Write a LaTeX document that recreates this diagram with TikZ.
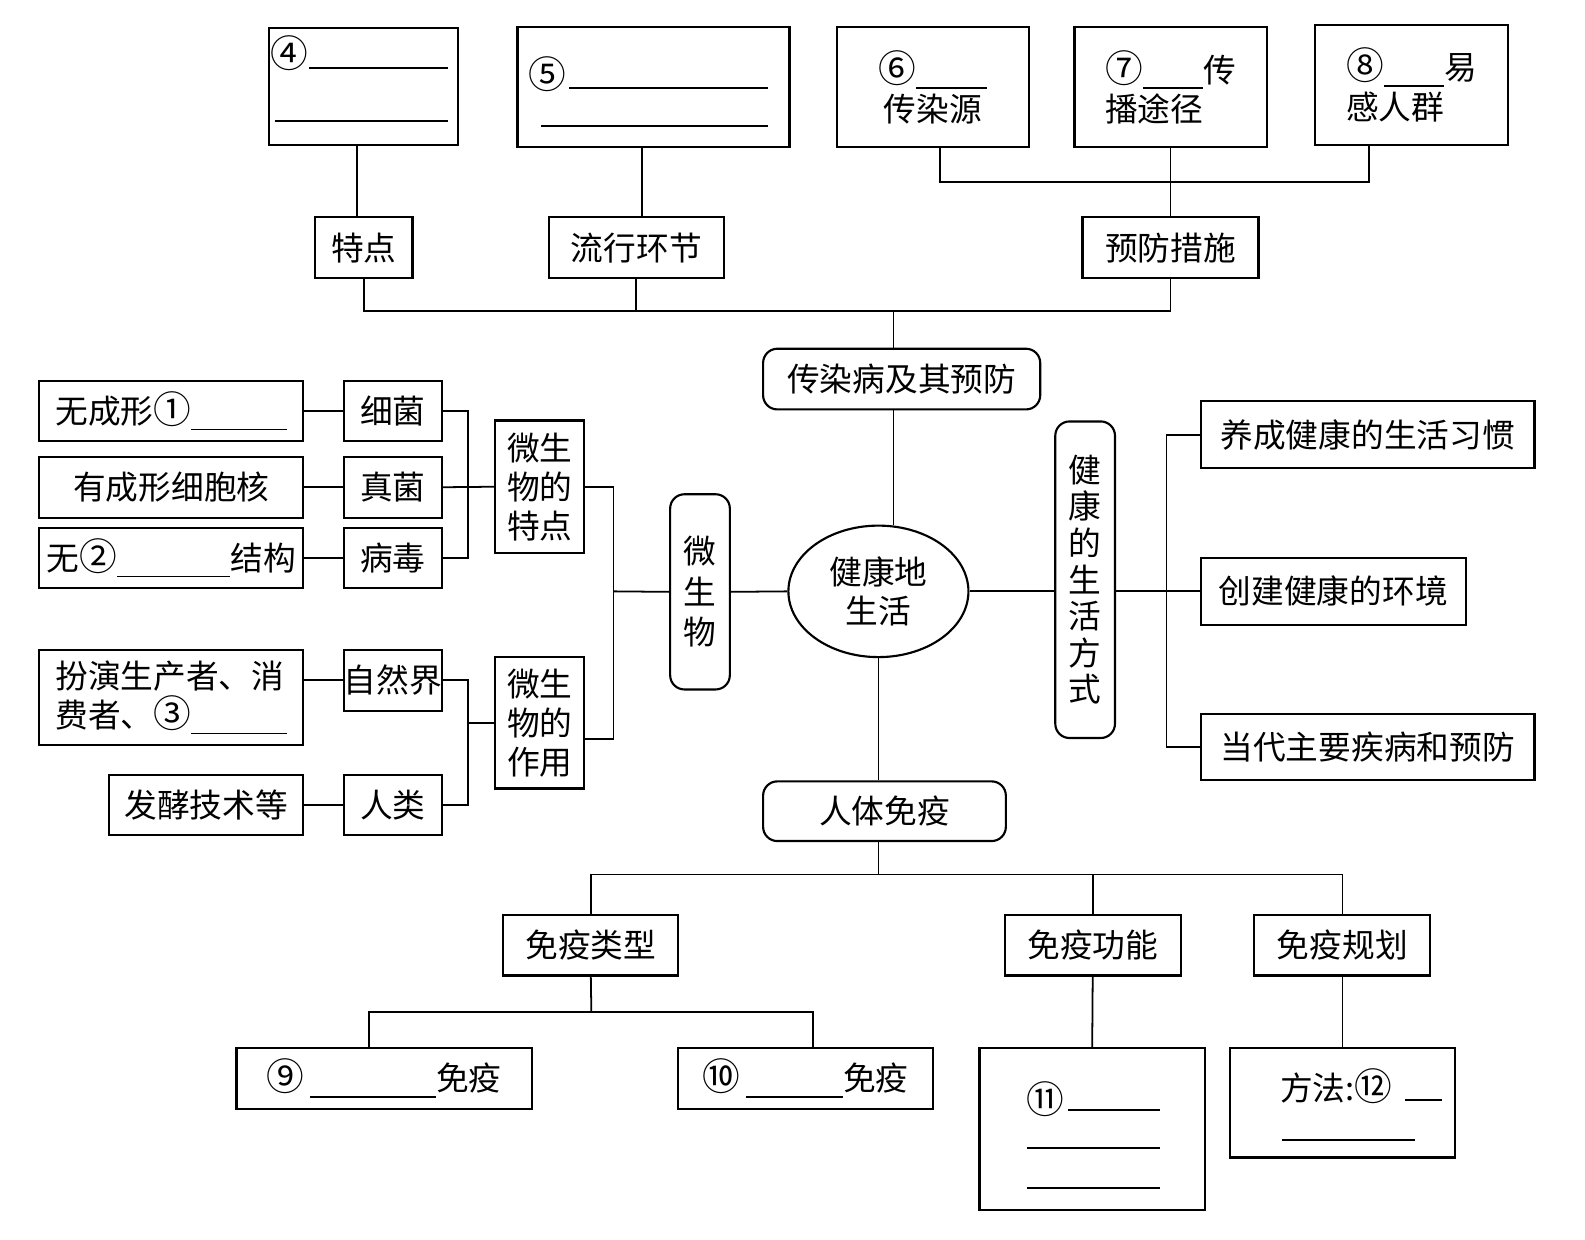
\documentclass[tikz,border=0pt]{standalone}
\usepackage{fontspec}
\setmainfont{Noto Sans CJK SC}
\usetikzlibrary{shapes}
\newcommand{\blankline}[1]{\rule[-2pt]{#1}{0.5pt}}
\newcommand{\cnum}[1]{{\fontsize{10.6pt}{11pt}\selectfont #1}}
\tikzset{
  every node/.style={font=\fontsize{9.2pt}{11pt}\selectfont, inner sep=0pt},
  box/.style={draw, line width=0.6pt},
  rbox/.style={draw, line width=0.6pt, rounded corners=4pt},
  conn/.style={line width=0.5pt}
}
\begin{document}
\begin{tikzpicture}[x=0.01cm, y=-0.01cm]
                    \useasboundingbox (0,0) rectangle (1568,1226);
                    % Define nodes
                    \node (b4) at (359.5,85.5) [box, minimum width=1.87cm, minimum height=1.15cm] {};
                    \node (b5) at (646.5,86) [box, minimum width=2.69cm, minimum height=1.18cm] {};
                    \node (b6) at (923,86) [box, minimum width=1.90cm, minimum height=1.18cm, align=center] {\cnum{⑥}\blankline{0.7cm}\\传染源};
                    \node (b7) at (1158,86) [box, minimum width=1.90cm, minimum height=1.18cm, align=left] {\cnum{⑦}\blankline{0.6cm}传\\播途径};
                    \node (b8) at (1396.5,84) [box, minimum width=1.91cm, minimum height=1.18cm, align=left] {\cnum{⑧}\blankline{0.6cm}易\\感人群};
                    \node (td) at (360,245) [box, minimum width=0.96cm, minimum height=0.60cm] {特点};
                    \node (lx) at (629.5,245) [box, minimum width=1.73cm, minimum height=0.60cm] {流行环节};
                    \node (yf) at (1158,245) [box, minimum width=1.74cm, minimum height=0.60cm] {预防措施};
                    \node (crb) at (892,375) [rbox, minimum width=2.74cm, minimum height=0.60cm] {传染病及其预防};
                    \node (root) at (869,585) [draw, line width=0.6pt, ellipse, minimum width=1.78cm, minimum height=1.30cm, align=center] {健康地\\生活};
                    \node (wsw) at (692.5,585.5) [rbox, minimum width=0.59cm, minimum height=1.93cm, align=center, font=\fontsize{9.2pt}{11.4pt}\selectfont] {微\\生\\物};
                    \node (jk) at (1073.5,573.5) [rbox, minimum width=0.59cm, minimum height=3.13cm, align=center, font=\fontsize{9.2pt}{10.3pt}\selectfont] {健\\康\\的\\生\\活\\方\\式};
                    \node (rt) at (875,802.5) [rbox, minimum width=2.40cm, minimum height=0.59cm] {人体免疫};
                    \node (tdian) at (534,481.5) [box, minimum width=0.88cm, minimum height=1.31cm, align=center] {微生\\物的\\特点};
                    \node (zy) at (534,715) [box, minimum width=0.88cm, minimum height=1.30cm, align=center] {微生\\物的\\作用};
                    \node (xj) at (388.5,406.5) [box, minimum width=0.97cm, minimum height=0.59cm] {细菌};
                    \node (zj) at (388.5,482) [box, minimum width=0.97cm, minimum height=0.60cm] {真菌};
                    \node (bd) at (388.5,552) [box, minimum width=0.97cm, minimum height=0.60cm] {病毒};
                    \node (zr) at (388.5,673) [box, minimum width=0.97cm, minimum height=0.60cm] {自然界};
                    \node (rl) at (388.5,796.5) [box, minimum width=0.97cm, minimum height=0.59cm] {人类};
                    \node (l1) at (169.5,406.5) [box, minimum width=2.61cm, minimum height=0.59cm] {无成形\cnum{①}\blankline{0.95cm}};
                    \node (l2) at (169.5,482) [box, minimum width=2.61cm, minimum height=0.60cm] {有成形细胞核};
                    \node (l3) at (169.5,552) [box, minimum width=2.61cm, minimum height=0.60cm] {无\cnum{②}\blankline{1.12cm}结构};
                    \node (l4) at (169.5,690) [box, minimum width=2.61cm, minimum height=0.94cm, align=left] {扮演生产者、消\\费者、\cnum{③}\blankline{0.95cm}};
                    \node (l5) at (204,796.5) [box, minimum width=1.92cm, minimum height=0.59cm] {发酵技术等};
                    \node (r1) at (1353,430) [box, minimum width=3.30cm, minimum height=0.66cm] {养成健康的生活习惯};
                    \node (r2) at (1319,585) [box, minimum width=2.62cm, minimum height=0.66cm] {创建健康的环境};
                    \node (r3) at (1353,739) [box, minimum width=3.30cm, minimum height=0.66cm] {当代主要疾病和预防};
                    \node (lxing) at (584.5,935) [box, minimum width=1.73cm, minimum height=0.60cm] {免疫类型};
                    \node (gn) at (1081,935) [box, minimum width=1.74cm, minimum height=0.60cm] {免疫功能};
                    \node (gh) at (1328,935) [box, minimum width=1.74cm, minimum height=0.60cm] {免疫规划};
                    \node (b9) at (380,1067) [box, minimum width=2.92cm, minimum height=0.60cm] {\cnum{⑨}\,\blankline{1.25cm}免疫};
                    \node (b10) at (797,1067) [box, minimum width=2.52cm, minimum height=0.60cm] {\cnum{⑩}\,\blankline{0.96cm}免疫};
                    \node (b11) at (1080.5,1117) [box, minimum width=2.23cm, minimum height=1.60cm] {};
                    \node (b12) at (1328,1091) [box, minimum width=2.22cm, minimum height=1.08cm] {};

                    % Blanks inside the boxes
                    \node (n4) at (286,53) {\cnum{④}};
                    \draw[conn] (306,67) -- (443,67);
                    \draw[conn] (272,120) -- (443,120);
                    \node (n5) at (541,73) {\cnum{⑤}};
                    \draw[conn] (563,87) -- (760,87);
                    \draw[conn] (535,125) -- (760,125);
                    \node (n11) at (1034,1087) {\cnum{⑪}};
                    \draw[conn] (1057,1098) -- (1148,1098);
                    \draw[conn] (1016,1136) -- (1148,1136);
                    \draw[conn] (1016,1175) -- (1148,1175);
                    \node (n12) at (1322,1075) {方法:\cnum{⑫}};
                    \draw[conn] (1390,1088) -- (1427,1088);
                    \draw[conn] (1268,1128) -- (1400,1128);

                    % Bus points
                    \coordinate (pbus) at (1158,180);
                    \coordinate (tbus) at (884,308);
                    \coordinate (lbus) at (607,585);
                    \coordinate (kb) at (463,482);
                    \coordinate (kz) at (463,715);
                    \coordinate (rbus) at (1154,585);
                    \coordinate (bbus) at (869,865);
                    \coordinate (mbus) at (585,1001);

                    % Draw lines
                    \draw[conn] (b4.south -| 353,0) -- (td.north -| 353,0);
                    \draw[conn] (b5.south -| 635,0) -- (lx.north -| 635,0);
                    \draw[conn] (b6.south -| 930,0) |- (pbus) -| (b8.south -| 1354,0);
                    \draw[conn] (b7.south) -- (yf.north);
                    \draw[conn] (td.south) |- (tbus) -| (yf.south);
                    \draw[conn] (lx.south) -- (lx.south |- tbus);
                    \draw[conn] (tbus) -- (tbus |- crb.north);
                    \draw[conn] (crb.south -| tbus) -- (root.north -| tbus);
                    \draw[conn] (root.south) -- (root.south |- rt.north);
                    \draw[conn] (root.west) -- (wsw.east);
                    \draw[conn] (root.east) -- (root.east -| jk.west);
                    \draw[conn] (wsw.west) -- (lbus);
                    \draw[conn] (tdian.east) -| (lbus) |- (zy.-20);
                    \draw[conn] (xj.east) -| (kb) |- (bd.east);
                    \draw[conn] (zj.east) -- (tdian.west);
                    \draw[conn] (l1.east) -- (xj.west);
                    \draw[conn] (l2.east) -- (zj.west);
                    \draw[conn] (l3.east) -- (bd.west);
                    \draw[conn] (zr.east) -| (kz) |- (rl.east);
                    \draw[conn] (kz) -- (kz -| zy.west);
                    \draw[conn] (zr.west) -- (zr.west -| l4.east);
                    \draw[conn] (l5.east) -- (rl.west);
                    \draw[conn] (jk.east |- rbus) -- (rbus);
                    \draw[conn] (r1.west) -| (rbus) |- (r3.west);
                    \draw[conn] (rbus) -- (r2.west);
                    \draw[conn] (rt.south -| bbus) -- (bbus);
                    \draw[conn] (lxing.north) |- (bbus) -| (gh.north);
                    \draw[conn] (gn.north) -- (gn.north |- bbus);
                    \draw[conn] (lxing.south) -- (mbus);
                    \draw[conn] (b9.north -| 365,0) |- (mbus) -| (b10.north -| 804,0);
                    \draw[conn] (gn.south) -- (b11.north);
                    \draw[conn] (gh.south) -- (b12.north);
                \end{tikzpicture}
\end{document}
